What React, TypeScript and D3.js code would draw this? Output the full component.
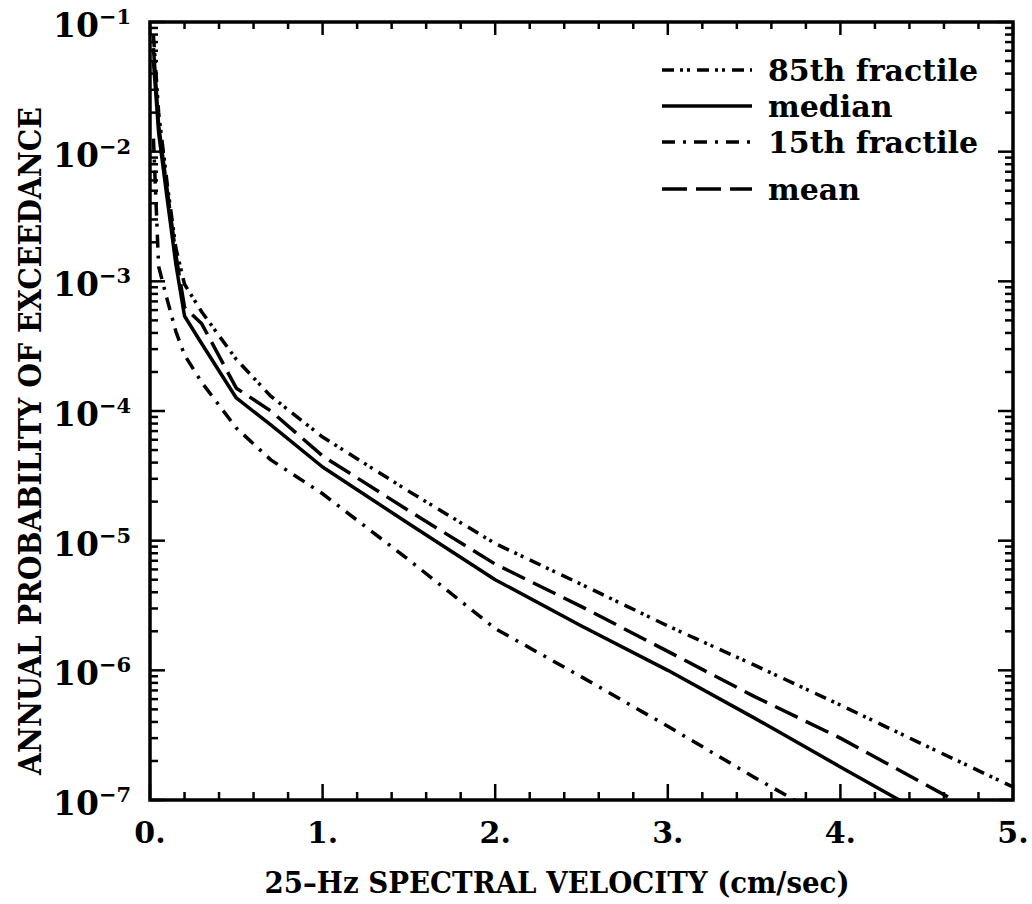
import React from 'react'
import * as d3 from 'd3'

// 25-Hz spectral velocity (cm/sec)
const velocity = [0.02, 0.05, 0.1, 0.15, 0.2, 0.3, 0.5, 0.7, 1, 1.5, 2, 2.5, 3, 3.5, 4, 4.5, 5]

// annual probability of exceedance
const fractile85 = [7.9e-2, 2.0e-2, 5.6e-3, 1.8e-3, 9.5e-4, 5.8e-4, 2.5e-4, 1.3e-4, 6.3e-5, 2.4e-5, 9.5e-6, 4.6e-6, 2.2e-6, 1.1e-6, 5.4e-7, 2.6e-7, 1.26e-7]
const median = [5.0e-2, 1.4e-2, 4.3e-3, 1.35e-3, 5.4e-4, 3.3e-4, 1.26e-4, 7.8e-5, 3.7e-5, 1.35e-5, 5.0e-6, 2.2e-6, 1.0e-6, 4.3e-7, 1.8e-7, 7.6e-8, 3.2e-8]
const fractile15 = [1.26e-2, 1.3e-3, 7.2e-4, 4.1e-4, 2.7e-4, 1.66e-4, 7.4e-5, 4.2e-5, 2.3e-5, 7.1e-6, 2.1e-6, 8.9e-7, 3.7e-7, 1.5e-7, 6.3e-8, 2.5e-8, 1.0e-8]
const mean = [6.3e-2, 1.6e-2, 5.0e-3, 1.6e-3, 6.3e-4, 4.7e-4, 1.5e-4, 1.0e-4, 4.5e-5, 1.7e-5, 6.6e-6, 3.1e-6, 1.4e-6, 6.3e-7, 3.0e-7, 1.3e-7, 5.6e-8]

const seriesNames = ['85th fractile', 'median', '15th fractile', 'mean']
const seriesDash = ['12,6,3,4,3,7', '', '13,8,3,8', '25,9']

const xTicks = [0, 1, 2, 3, 4, 5]
const yExponents = [-1, -2, -3, -4, -5, -6, -7]

const W = 1032
const H = 904
const left = 150
const right = 1013
const top = 22
const bottom = 800

const FONT = '"DejaVu Serif", serif'

export default function App() {
  const x = d3.scaleLinear().domain([0, 5]).range([left, right])
  const y = d3.scaleLog().domain([1e-7, 1e-1]).range([bottom, top])

  const line = d3
    .line<[number, number]>()
    .x((d) => x(d[0]))
    .y((d) => y(d[1]))

  const allSeries = [fractile85, median, fractile15, mean]

  const minorX = d3.range(0, 5.0001, 0.2)
  const logTicks: number[] = []
  for (let e = -7; e < -1; e++) {
    for (let m = 1; m < 10; m++) logTicks.push(m * Math.pow(10, e))
  }
  logTicks.push(1e-1)

  // legend rows sit a bit unevenly in the original
  const legendRows = [70, 106, 142, 189]

  return (
    <svg
      width={W}
      height={H}
      style={{ position: 'absolute', left: 0, top: 0, background: '#fff' }}
      fontFamily={FONT}
      fontWeight="bold"
    >
      <rect width={W} height={H} fill="#fff" />
      <defs>
        <clipPath id="plot">
          <rect x={left} y={top} width={right - left} height={bottom - top} />
        </clipPath>
      </defs>

      {/* x ticks, bottom and top */}
      {minorX.map((v, i) => {
        const major = Math.abs(v - Math.round(v)) < 1e-6
        const len = major ? 16 : 8
        return (
          <g key={'xt' + i} stroke="#000" strokeWidth={2.5}>
            <line x1={x(v)} x2={x(v)} y1={bottom} y2={bottom - len} />
            <line x1={x(v)} x2={x(v)} y1={top} y2={top + (major ? 13 : 7)} />
          </g>
        )
      })}

      {/* y ticks, left and right */}
      {logTicks.map((v, i) => {
        const major = Math.abs(Math.log10(v) - Math.round(Math.log10(v))) < 1e-6
        const len = major ? 15 : 8
        return (
          <g key={'yt' + i} stroke="#000" strokeWidth={2.5}>
            <line x1={left} x2={left + len} y1={y(v)} y2={y(v)} />
            <line x1={right} x2={right - len} y1={y(v)} y2={y(v)} />
          </g>
        )
      })}

      <rect
        x={left}
        y={top}
        width={right - left}
        height={bottom - top}
        fill="none"
        stroke="#000"
        strokeWidth={3.5}
      />

      {/* curves */}
      <g clipPath="url(#plot)">
        {allSeries.map((vals, i) => (
          <path
            key={seriesNames[i]}
            d={line(velocity.map((v, j) => [v, vals[j]] as [number, number])) || ''}
            fill="none"
            stroke="#000"
            strokeWidth={3.5}
            strokeDasharray={seriesDash[i] || undefined}
            strokeLinejoin="round"
          />
        ))}
      </g>

      {/* x tick labels */}
      {xTicks.map((v) => (
        <text key={'xl' + v} x={x(v)} y={843} textAnchor="middle" fontSize={30}>
          {v + '.'}
        </text>
      ))}

      {/* y tick labels */}
      {yExponents.map((e) => (
        <text key={'yl' + e} x={53} y={y(Math.pow(10, e)) + 15} fontSize={33}>
          10
          <tspan dy={-13} fontSize={21}>
            {'\u2212' + Math.abs(e)}
          </tspan>
        </text>
      ))}

      {/* axis titles */}
      <text
        x={557}
        y={893}
        textAnchor="middle"
        fontSize={30}
        textLength={585}
        lengthAdjust="spacingAndGlyphs"
      >
        25–Hz SPECTRAL VELOCITY (cm/sec)
      </text>
      <text
        transform={`translate(41,441) rotate(-90)`}
        textAnchor="middle"
        fontSize={31}
        textLength={668}
        lengthAdjust="spacingAndGlyphs"
      >
        ANNUAL PROBABILITY OF EXCEEDANCE
      </text>

      {/* legend */}
      {seriesNames.map((name, i) => {
        const rowY = legendRows[i]
        return (
          <g key={'lg' + name}>
            <line
              x1={662}
              x2={752}
              y1={rowY}
              y2={rowY}
              stroke="#000"
              strokeWidth={3.5}
              strokeDasharray={seriesDash[i] || undefined}
            />
            <text x={768} y={rowY + 11} fontSize={30}>
              {name}
            </text>
          </g>
        )
      })}
    </svg>
  )
}
